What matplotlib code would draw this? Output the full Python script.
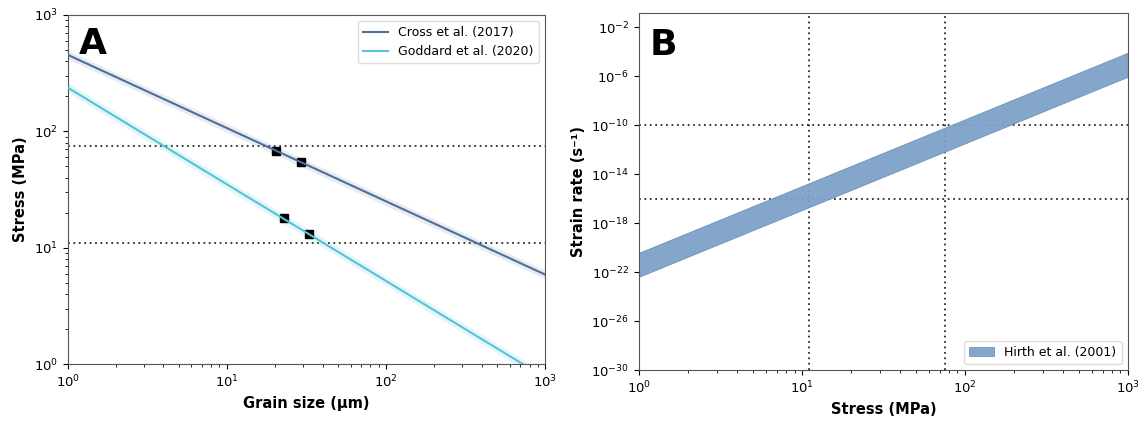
import numpy as np
import matplotlib
matplotlib.use("Agg")
import matplotlib.pyplot as plt
from matplotlib.ticker import NullLocator, LogFormatterSciNotation

# --- Panel A: piezometer relations (grain size in µm vs stress in MPa) ---
grain_size_ends = [1.0, 1000.0]
cross_stress = [453.0, 5.9]
goddard_stress = [237.0, 0.77]
cross_band_factor = 1.09
goddard_band_factor = 1.10

cross_pts_d = [20.4, 29.4]
cross_pts_s = [68.0, 54.0]
goddard_pts_d = [22.8, 32.9]
goddard_pts_s = [18.0, 13.2]

stress_levels = [11.0, 75.0]

# --- Panel B: flow law band (stress in MPa vs strain rate in 1/s) ---
stress_ends = [1.0, 1000.0]
rate_upper = [10**-20.4, 10**-4.07]
rate_lower = [10**-22.36, 10**-6.03]
rate_levels = [1e-16, 1e-10]

cross_color = "#4f6f99"
goddard_color = "#56c3d8"
band_color = "#7ea1c9"
dot_color = "#2a2a2a"

plt.rcParams["font.family"] = ["DejaVu Sans"]
fig = plt.figure(figsize=(11.43, 4.22), dpi=100)
axA = fig.add_axes([0.0592, 0.1367, 0.4176, 0.8284])
axB = fig.add_axes([0.5591, 0.1225, 0.4276, 0.8460])

# Panel A
for lvl in stress_levels:
    axA.axhline(lvl, color=dot_color, ls=(0, (1, 2)), lw=1.3, zorder=1)

axA.fill_between(grain_size_ends,
                 np.array(cross_stress) / cross_band_factor,
                 np.array(cross_stress) * cross_band_factor,
                 color=cross_color, alpha=0.13, lw=0, zorder=2)
axA.fill_between(grain_size_ends,
                 np.array(goddard_stress) / goddard_band_factor,
                 np.array(goddard_stress) * goddard_band_factor,
                 color=goddard_color, alpha=0.15, lw=0, zorder=2)

axA.plot(cross_pts_d, cross_pts_s, ls="none", marker="s", ms=5.5,
         color="black", zorder=3)
axA.plot(goddard_pts_d, goddard_pts_s, ls="none", marker="s", ms=5.5,
         color="black", zorder=3)

axA.plot(grain_size_ends, cross_stress, color=cross_color, lw=1.5,
         label="Cross et al. (2017)", zorder=4)
axA.plot(grain_size_ends, goddard_stress, color=goddard_color, lw=1.5,
         label="Goddard et al. (2020)", zorder=4)

axA.set_xscale("log")
axA.set_yscale("log")
axA.set_xlim(1, 1000)
axA.set_ylim(1, 1000)
axA.set_xlabel("Grain size (µm)", fontsize=10.5, fontweight="bold")
axA.set_ylabel("Stress (MPa)", fontsize=10.5, fontweight="bold")
axA.legend(loc="upper right", fontsize=9, framealpha=1.0, edgecolor="#dddddd",
           fancybox=True, handlelength=2.0)
axA.text(0.024, 0.965, "A", transform=axA.transAxes, fontsize=26,
         fontweight="heavy", va="top", ha="left")

# Panel B
for lvl in stress_levels:
    axB.axvline(lvl, color=dot_color, ls=(0, (1, 2)), lw=1.3, zorder=1)
for lvl in rate_levels:
    axB.axhline(lvl, color=dot_color, ls=(0, (1, 2)), lw=1.3, zorder=1)

axB.fill_between(stress_ends, rate_lower, rate_upper, color=band_color,
                 alpha=0.95, lw=0.6, edgecolor="#6b8fbb", zorder=2,
                 label="Hirth et al. (2001)")

axB.set_xscale("log")
axB.set_yscale("log")
axB.set_xlim(1, 1000)
axB.set_ylim(1e-30, 10**-0.85)
axB.set_yticks([10.0**e for e in range(-30, 0, 4)])
axB.yaxis.set_major_formatter(LogFormatterSciNotation())
axB.yaxis.set_minor_locator(NullLocator())
axB.set_xlabel("Stress (MPa)", fontsize=10.5, fontweight="bold")
axB.set_ylabel("Strain rate (s⁻¹)", fontsize=10.5, fontweight="bold")
axB.legend(loc="lower right", fontsize=9, framealpha=1.0, edgecolor="#dddddd",
           fancybox=True, handlelength=2.0)
axB.text(0.021, 0.958, "B", transform=axB.transAxes, fontsize=26,
         fontweight="heavy", va="top", ha="left")

for ax in (axA, axB):
    ax.tick_params(labelsize=9.5)
    for sp in ax.spines.values():
        sp.set_color("#555555")

fig.savefig("out.png", dpi=100)
